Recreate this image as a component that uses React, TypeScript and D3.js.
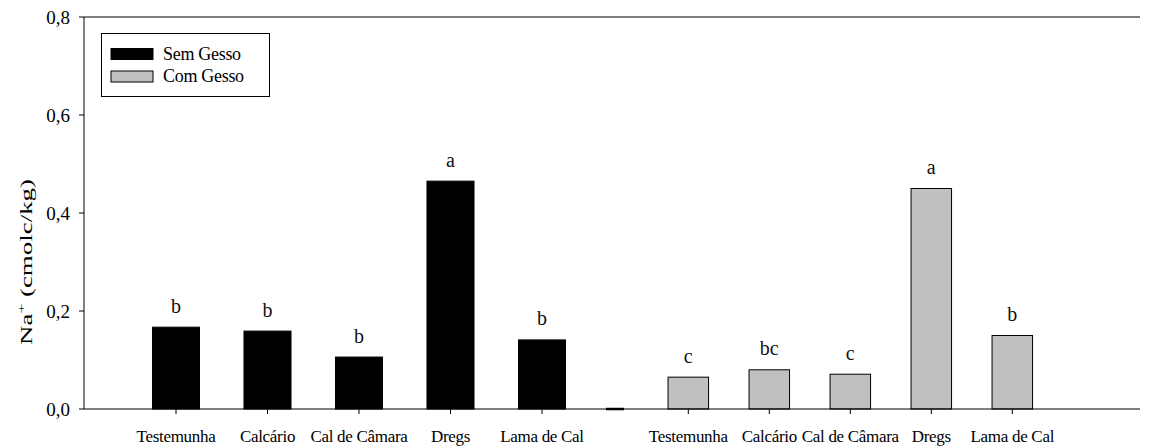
import React from "react";
import * as d3 from "d3";

const categories = ["Testemunha", "Calcário", "Cal de Câmara", "Dregs", "Lama de Cal"];
const semGesso = [0.167, 0.159, 0.106, 0.465, 0.141];
const comGesso = [0.065, 0.08, 0.071, 0.45, 0.15];
const semLetters = ["b", "b", "b", "a", "b"];
const comLetters = ["c", "bc", "c", "a", "b"];
const yTicks = [0, 0.2, 0.4, 0.6, 0.8];
const legendLabels = ["Sem Gesso", "Com Gesso"];

const W = 1150;
const H = 447;
const serif = "'Liberation Serif', 'Times New Roman', serif";

export default function App() {
  const y = d3.scaleLinear().domain([0, 0.8]).range([409, 17]);
  const xL = d3.scaleBand<string>().domain(categories).range([130.25, 587.75]).paddingInner(0.486).paddingOuter(0.243);
  const xR = d3.scaleBand<string>().domain(categories).range([647.8, 1052.8]).paddingInner(0.5).paddingOuter(0.25);
  const fmt = (v: number) => v.toFixed(1).replace(".", ",");
  const axisX0 = 84;
  const axisX1 = 1140;

  const groups = [
    { x: xL, vals: semGesso, letters: semLetters, fill: "#000000" },
    { x: xR, vals: comGesso, letters: comLetters, fill: "#c0c0c0" },
  ];

  return (
    <svg width={W} height={H} style={{ position: "absolute", left: 0, top: 0 }} fontFamily={serif}>
      <rect x={0} y={0} width={W} height={H} fill="#fff" />
      {groups.map((g, gi) => (
        <g key={gi}>
          {categories.map((c, i) => {
            const cx = g.x(c)! + g.x.bandwidth() / 2;
            return (
              <g key={c}>
                <rect
                  x={g.x(c)!}
                  y={y(g.vals[i])}
                  width={g.x.bandwidth()}
                  height={y(0) - y(g.vals[i])}
                  fill={g.fill}
                  stroke="#000"
                  strokeWidth={1}
                />
                <text x={cx} y={y(g.vals[i]) - 14.5} textAnchor="middle" fontSize={20} fill="#111">
                  {g.letters[i]}
                </text>
                <line x1={cx} x2={cx} y1={y(0)} y2={y(0) + 5} stroke="#000" />
                <text x={cx} y={442} textAnchor="middle" fontSize={17} letterSpacing={-0.3} fill="#000">
                  {c}
                </text>
              </g>
            );
          })}
        </g>
      ))}
      <line x1={606} x2={624} y1={y(0)} y2={y(0)} stroke="#000" strokeWidth={2.5} />
      <line x1={axisX0} x2={axisX1} y1={y(0)} y2={y(0)} stroke="#000" strokeWidth={1} />
      <line x1={axisX0} x2={axisX1} y1={y(0.8)} y2={y(0.8)} stroke="#000" strokeWidth={1} />
      <line x1={axisX0} x2={axisX0} y1={y(0)} y2={y(0.8)} stroke="#000" strokeWidth={1} />
      {yTicks.map((t) => (
        <g key={t}>
          <line x1={axisX0 - 5} x2={axisX0} y1={y(t)} y2={y(t)} stroke="#000" />
          <text x={70} y={y(t) + 6.5} textAnchor="end" fontSize={19} fill="#000">
            {fmt(t)}
          </text>
        </g>
      ))}
      <text
        transform={`translate(32,262) rotate(-90)`}
        textAnchor="middle"
        fontSize={17}
        fill="#000"
        textLength={166}
        lengthAdjust="spacingAndGlyphs"
      >
        Na<tspan dy={-7} fontSize={11}>+</tspan>
        <tspan dy={7}>{"  (cmolc/kg)"}</tspan>
      </text>
      <rect x={101.5} y={33.5} width={168} height={63} fill="#fff" stroke="#000" strokeWidth={1} />
      {legendLabels.map((l, i) => (
        <g key={l}>
          <rect x={111} y={48.5 + i * 22.5} width={42} height={11} fill={i === 0 ? "#000" : "#c0c0c0"} stroke="#000" strokeWidth={1} />
          <text x={163} y={59.5 + i * 22.5} fontSize={18} fill="#000" letterSpacing={-0.3}>
            {l}
          </text>
        </g>
      ))}
    </svg>
  );
}
